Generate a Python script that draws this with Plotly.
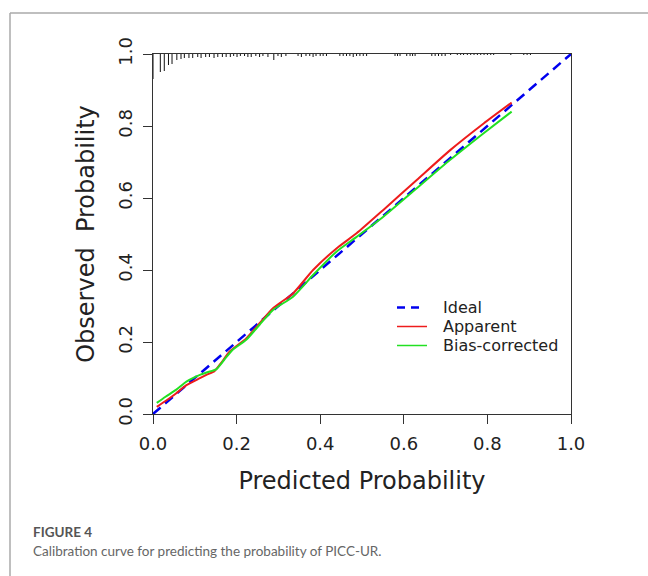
import plotly.graph_objects as go

# ---------------- data ----------------
ideal_x = [0.0, 1.0]
ideal_y = [0.0, 1.0]

apparent_x = [0.009, 0.030, 0.055, 0.080, 0.111, 0.130, 0.147, 0.165, 0.183, 0.223, 0.255,
              0.287, 0.335, 0.383, 0.439, 0.487, 0.551, 0.631, 0.711, 0.791, 0.858]
apparent_y = [0.020, 0.036, 0.057, 0.080, 0.099, 0.110, 0.119, 0.145, 0.173, 0.210, 0.252,
              0.294, 0.335, 0.400, 0.460, 0.502, 0.567, 0.650, 0.733, 0.807, 0.865]

biascorr_x = [0.009, 0.030, 0.055, 0.080, 0.111, 0.130, 0.151, 0.170, 0.190, 0.223, 0.255,
              0.287, 0.335, 0.383, 0.439, 0.487, 0.551, 0.631, 0.711, 0.791, 0.858]
biascorr_y = [0.031, 0.048, 0.067, 0.090, 0.108, 0.116, 0.124, 0.150, 0.178, 0.206, 0.248,
              0.289, 0.326, 0.386, 0.451, 0.492, 0.548, 0.627, 0.706, 0.780, 0.840]

# distribution of predicted probabilities (rug at top), relative frequencies
rug_x = [0.000, 0.0175, 0.027, 0.037, 0.0455, 0.057, 0.067, 0.075, 0.086, 0.095,
         0.107, 0.115, 0.126, 0.135, 0.146, 0.155, 0.166, 0.175, 0.185, 0.193,
         0.201, 0.209, 0.219, 0.227, 0.235, 0.246, 0.255, 0.263, 0.275, 0.289,
         0.299, 0.307, 0.318, 0.347, 0.355, 0.366, 0.375, 0.383, 0.390, 0.400,
         0.407, 0.415, 0.447, 0.455, 0.463, 0.471, 0.479, 0.487, 0.495, 0.503,
         0.511, 0.579, 0.585, 0.591, 0.607, 0.615, 0.621, 0.627, 0.667, 0.675,
         0.683, 0.691, 0.699, 0.712, 0.728, 0.736, 0.743, 0.752, 0.760, 0.768,
         0.776, 0.784, 0.792, 0.800, 0.808, 0.815, 0.856, 0.887, 0.895, 0.903]
rug_n = [25, 18, 17, 11, 10, 6, 5, 4, 4, 4,
         3, 4, 3, 3, 4, 3, 3, 3, 3, 2,
         3, 2, 2, 3, 3, 2, 3, 2, 3, 6,
         2, 3, 2, 2, 3, 2, 2, 3, 2, 2,
         2, 2, 2, 2, 2, 2, 3, 2, 2, 2,
         2, 2, 2, 2, 2, 2, 2, 2, 2, 2,
         2, 2, 2, 1, 1, 1, 1, 1, 1, 1,
         1, 1, 1, 1, 1, 1, 1, 1, 1, 1]

x_ticks = [0.0, 0.2, 0.4, 0.6, 0.8, 1.0]
y_ticks = [0.0, 0.2, 0.4, 0.6, 0.8, 1.0]

legend_names = ["Ideal", "Apparent", "Bias-corrected"]

# ---------------- layout geometry ----------------
W, H = 648, 576
ML, MR, MT, MB = 153, 77, 54, 162
PW, PH = W - ML - MR, H - MT - MB

def px_x(p):
    return (p - ML) / PW

def px_y(p):
    return 1 - (p - MT) / PH

BLUE, RED, GREEN = "#0000ee", "#ee1c1c", "#22e022"

rug_px_per_unit = 1.0
rx, ry = [], []
for xv, n in zip(rug_x, rug_n):
    rx += [xv, xv, None]
    ry += [1.0, 1.0 - n * rug_px_per_unit / PH, None]

fig = go.Figure()
fig.add_trace(go.Scatter(x=rx, y=ry, mode="lines", line=dict(color="#111", width=1),
                         showlegend=False, hoverinfo="skip"))
fig.add_trace(go.Scatter(x=ideal_x, y=ideal_y, mode="lines", name=legend_names[0],
                         showlegend=False,
                         line=dict(color=BLUE, width=2.5, dash="10px,6px")))
fig.add_trace(go.Scatter(x=apparent_x, y=apparent_y, mode="lines", name=legend_names[1],
                         showlegend=False,
                         line=dict(color=RED, width=2, shape="spline", smoothing=0.6)))
fig.add_trace(go.Scatter(x=biascorr_x, y=biascorr_y, mode="lines", name=legend_names[2],
                         showlegend=False,
                         line=dict(color=GREEN, width=2, shape="spline", smoothing=0.6)))

axis_common = dict(range=[0, 1], showgrid=False, zeroline=False, showline=True, mirror=True,
                   linecolor="#333", linewidth=1.2, ticks="outside", ticklen=9, tickwidth=1.2,
                   tickcolor="#333", tickformat=".1f", ticklabelstandoff=4,
                   tickfont=dict(family="DejaVu Sans", size=18, color="#222"))

fig.update_layout(
    width=W, height=H,
    margin=dict(l=ML, r=MR, t=MT, b=MB),
    paper_bgcolor="white", plot_bgcolor="white",
    xaxis=dict(axis_common, tickvals=x_ticks,
               title=dict(text="Predicted Probability", standoff=19,
                          font=dict(family="DejaVu Sans", size=24, color="#222"))),
    yaxis=dict(axis_common, tickvals=y_ticks, tickangle=-90,
               title=dict(text="Observed\u00a0 Probability", standoff=13,
                          font=dict(family="DejaVu Sans", size=24, color="#222"))),
    showlegend=False,
)

# legend (drawn manually to match spacing)
leg_rows = [307.5, 326.5, 345.5]
leg_styles = [(BLUE, 2.5, "8px,6px", 423), (RED, 1.5, "solid", 427), (GREEN, 1.5, "solid", 427)]
for name, yrow, (col, wd, dsh, xend) in zip(legend_names, leg_rows, leg_styles):
    fig.add_shape(type="line", xref="paper", yref="paper",
                  x0=px_x(397), x1=px_x(xend), y0=px_y(yrow), y1=px_y(yrow),
                  line=dict(color=col, width=wd, dash=dsh))
    fig.add_annotation(text=name, xref="paper", yref="paper", x=px_x(441), y=px_y(yrow),
                       xanchor="left", yanchor="middle", showarrow=False,
                       font=dict(family="DejaVu Sans", size=16, color="#222"))

# page frame and caption
fig.add_shape(type="line", xref="paper", yref="paper", x0=px_x(10), x1=px_x(W + 5),
              y0=px_y(13), y1=px_y(13), line=dict(color="#aaa", width=1.5))
fig.add_shape(type="line", xref="paper", yref="paper", x0=px_x(10), x1=px_x(10),
              y0=px_y(13), y1=px_y(H + 5), line=dict(color="#aaa", width=1.5))
fig.add_annotation(text="<b>FIGURE 4</b>", xref="paper", yref="paper", x=px_x(31), y=px_y(532),
                   xanchor="left", yanchor="middle", showarrow=False,
                   font=dict(family="Lato", size=13.5, color="#555"))
fig.add_annotation(text="Calibration curve for predicting the probability of PICC-UR.",
                   xref="paper", yref="paper", x=px_x(31), y=px_y(551),
                   xanchor="left", yanchor="middle", showarrow=False,
                   font=dict(family="Lato", size=13.5, color="#666"))

fig.write_html("out.html")
